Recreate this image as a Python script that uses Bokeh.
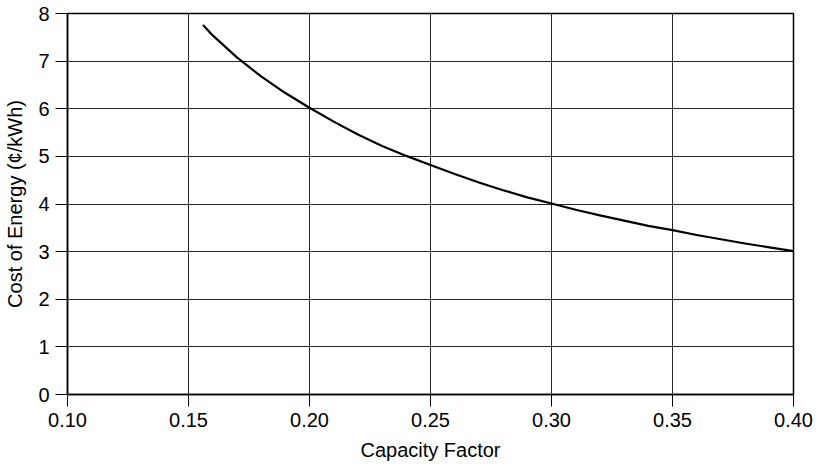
from bokeh.plotting import figure
from bokeh.models import Range1d, FixedTicker, NumeralTickFormatter
from bokeh.embed import file_html
from bokeh.resources import INLINE

capacity_factor = [0.156, 0.16, 0.17, 0.18, 0.19, 0.20, 0.21, 0.22, 0.23, 0.24, 0.25,
                   0.26, 0.27, 0.28, 0.29, 0.30, 0.31, 0.32, 0.33, 0.34, 0.35,
                   0.36, 0.37, 0.38, 0.39, 0.40]
cost_of_energy = [7.76, 7.54, 7.08, 6.68, 6.33, 6.02, 5.73, 5.46, 5.22, 5.01, 4.82,
                  4.63, 4.45, 4.29, 4.14, 4.01, 3.88, 3.76, 3.65, 3.54, 3.45,
                  3.35, 3.26, 3.17, 3.09, 3.01]
x_ticks = [0.10, 0.15, 0.20, 0.25, 0.30, 0.35, 0.40]
y_ticks = [0, 1, 2, 3, 4, 5, 6, 7, 8]

FONT = "Liberation Sans"

p = figure(width=816, height=464, output_backend="svg", toolbar_location=None,
           x_range=Range1d(0.10, 0.40), y_range=Range1d(0, 8),
           min_border_left=67, min_border_right=23, min_border_top=13, min_border_bottom=70)

p.line(capacity_factor, cost_of_energy, line_color="black", line_width=2.2,
       line_join="round")

p.outline_line_color = "black"
p.outline_line_width = 1.5

p.xaxis.ticker = FixedTicker(ticks=x_ticks)
p.yaxis.ticker = FixedTicker(ticks=y_ticks)
p.xaxis.formatter = NumeralTickFormatter(format="0.00")

for ax in (p.xaxis[0], p.yaxis[0]):
    ax.axis_line_color = "black"
    ax.axis_line_width = 1.5
    ax.major_tick_line_color = "black"
    ax.major_tick_line_width = 1
    ax.major_tick_out = 12
    ax.major_tick_in = 0
    ax.minor_tick_line_color = None
    ax.major_label_text_font = FONT
    ax.major_label_text_font_size = "20px"
    ax.major_label_text_color = "black"
    ax.axis_label_text_font = FONT
    ax.axis_label_text_font_size = "20px"
    ax.axis_label_text_font_style = "normal"
    ax.axis_label_text_color = "black"

p.xaxis.axis_label = "Capacity Factor"
p.yaxis.axis_label = "Cost of Energy (¢/kWh)"
p.xaxis.major_label_standoff = 6
p.yaxis.major_label_standoff = 6
p.xaxis.axis_label_standoff = 9
p.yaxis.axis_label_standoff = 9

for g in (p.xgrid[0], p.ygrid[0]):
    g.grid_line_color = "black"
    g.grid_line_width = 1
    g.grid_line_alpha = 0.85

p.background_fill_color = "white"
p.border_fill_color = "white"

open("out.html", "w").write(file_html(p, INLINE))
